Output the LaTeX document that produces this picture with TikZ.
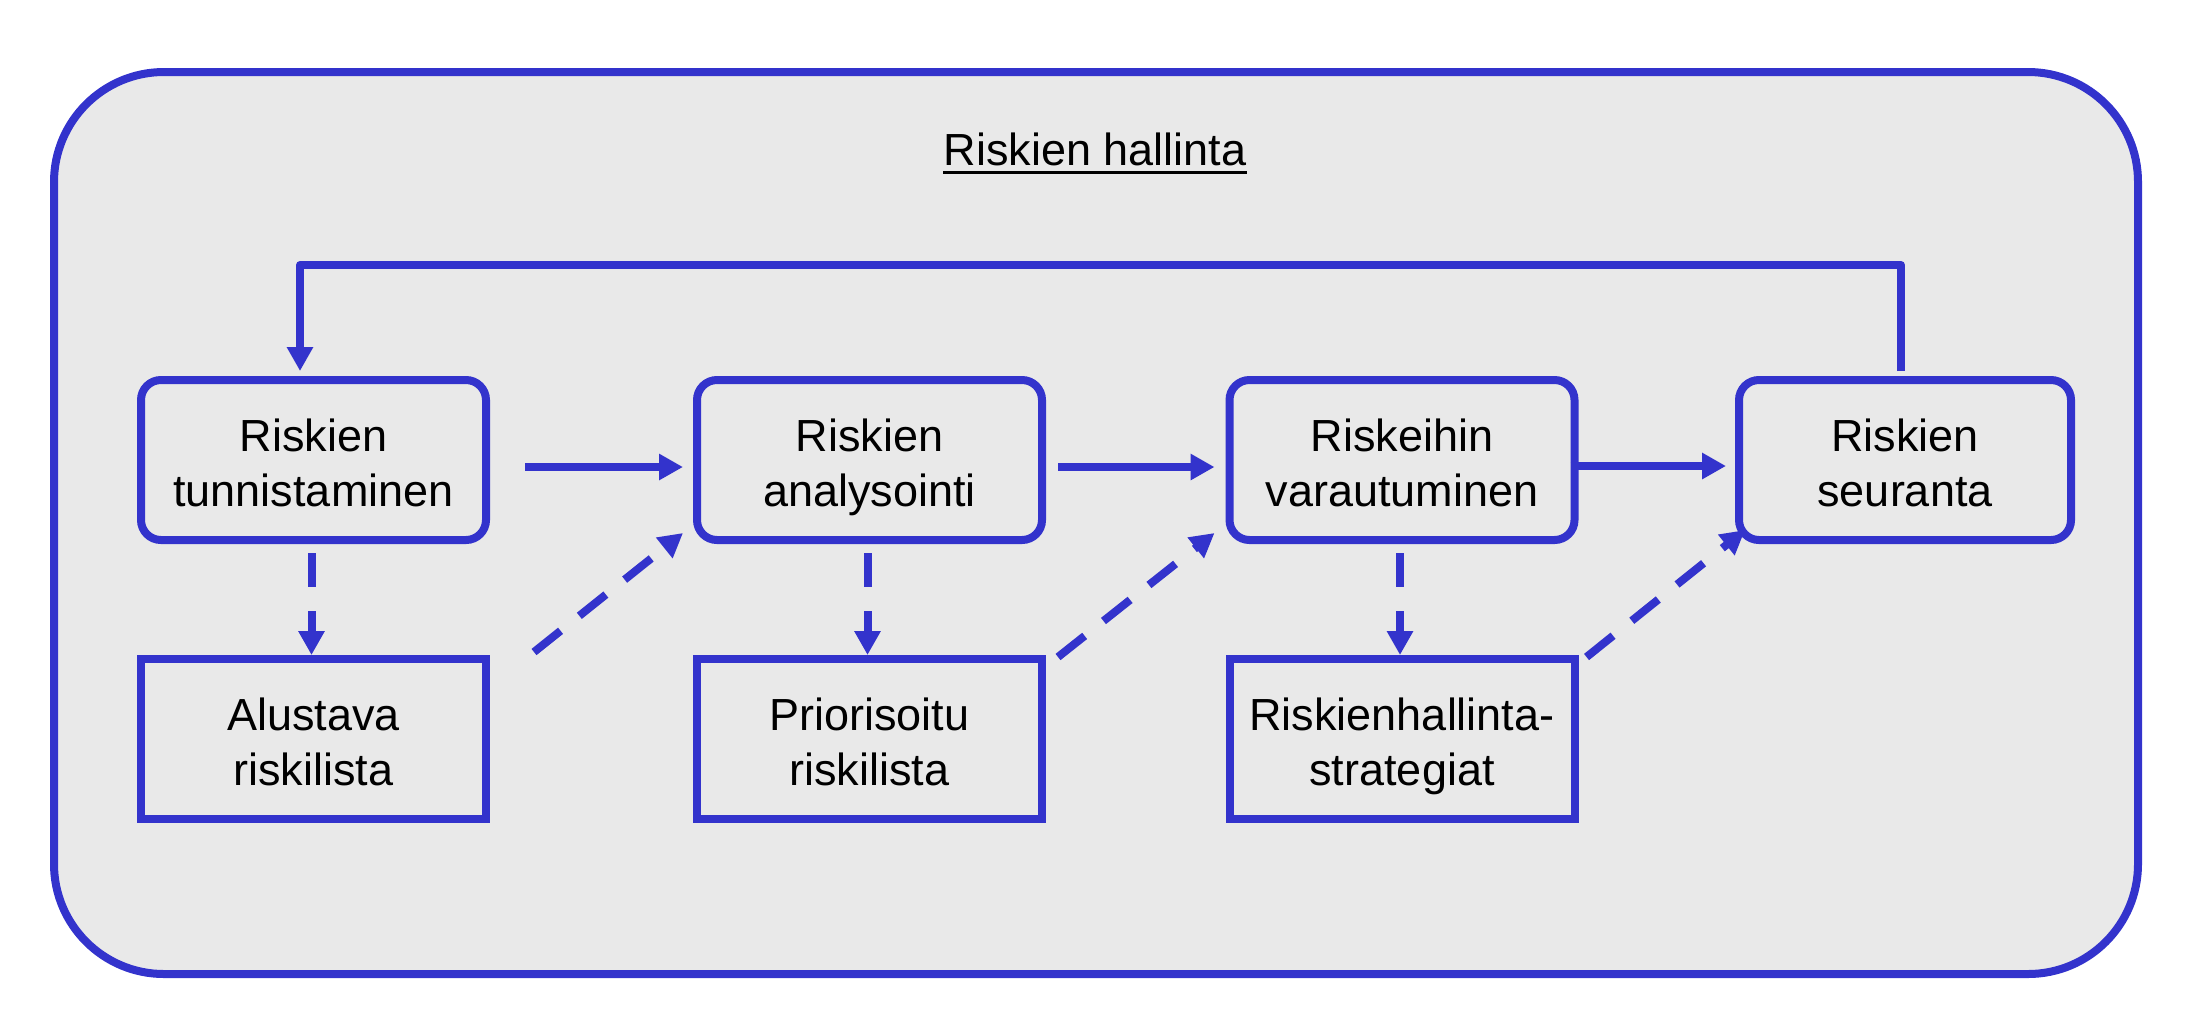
\documentclass[tikz,border=0pt]{standalone}
\usepackage{fontspec}
\setmainfont{Liberation Sans}
\usetikzlibrary{arrows.meta}
\definecolor{bl}{RGB}{51,51,204}
\definecolor{bgc}{RGB}{233,233,233}
\newcommand\hdtop{\rule{0pt}{23.5pt}}
\newcommand\hdbot{\rule[-4.7pt]{0pt}{1pt}}
\begin{document}
\begin{tikzpicture}[x=0.5pt,y=-0.5pt,
  every node/.style={font=\fontsize{22.5}{27.5}\selectfont, text=black},
  rbox/.style={draw=bl, line width=4pt, rounded corners=10pt, minimum width=172.5pt, minimum height=80pt, align=center, inner sep=0pt, outer sep=0pt},
  sbox/.style={draw=bl, line width=4pt, minimum width=172.5pt, minimum height=80pt, align=center, inner sep=0pt, outer sep=0pt},
  arr/.style={draw=bl, line width=4pt, -{Triangle[length=12pt,width=12.5pt]}},
  darr/.style={arr, dash pattern=on 17pt off 12pt}]
\useasboundingbox (0,0) rectangle (2198,1014);
\draw[draw=bl, fill=bgc, line width=4pt, rounded corners=55pt] (54,72) rectangle (2138,974);
\node[anchor=base, inner sep=0pt] (title) at (1095,165) {Riskien hallinta};
\draw[line width=1.5pt] ([yshift=-3.5pt]title.base west) -- ([yshift=-3.5pt]title.base east);
\node[rbox] (b1) at (313.5,460) {\hdtop Riskien\\tunnistaminen\hdbot};
\node[rbox] (b2) at (869.5,460) {\hdtop Riskien\\analysointi\hdbot};
\node[rbox] (b3) at (1402,460) {\hdtop Riskeihin\\varautuminen\hdbot};
\node[rbox, minimum width=166pt] (b4) at (1905,460) {\hdtop Riskien\\seuranta\hdbot};
\node[sbox] (a1) at (313.5,739) {\hdtop Alustava\\riskilista\hdbot};
\node[sbox] (a2) at (869.5,739) {\hdtop Priorisoitu\\riskilista\hdbot};
\node[sbox] (a3) at (1402,739) {\hdtop Riskienhallinta-\\strategiat\hdbot};
% horizontal arrows
\draw[arr, shorten <=19.5pt, shorten >=7pt] ([yshift=-3.5pt]b1.east) -- ([yshift=-3.5pt]b2.west);
\draw[arr, shorten <=8pt, shorten >=7.5pt] ([yshift=-3.5pt]b2.east) -- ([yshift=-3.5pt]b3.west);
\draw[arr, shorten <=-2pt, shorten >=6.5pt] ([yshift=-3pt]b3.east) -- ([yshift=-3pt]b4.west);
% vertical dashed arrows
\draw[darr, shorten <=6.5pt, shorten >=2pt] ([xshift=-1pt]b1.south) -- ([xshift=-1pt]a1.north);
\draw[darr, shorten <=6.5pt, shorten >=2pt] ([xshift=-1pt]b2.south) -- ([xshift=-1pt]a2.north);
\draw[darr, shorten <=6.5pt, shorten >=2pt] ([xshift=-1pt]b3.south) -- ([xshift=-1pt]a3.north);
% diagonal dashed arrows
\draw[darr] ([shift={(48,-7)}]a1.north east) -- ([shift={(-14,-7)}]b2.south west);
\draw[darr] ([shift={(16,-2)}]a2.north east) -- ([shift={(-15,-7)}]b3.south west);
\draw[darr] ([shift={(12,-2)}]a3.north east) -- ([shift={(6,-10)}]b4.south west);
% feedback loop
\coordinate (fb) at (0,265);
\coordinate (s4) at ([shift={(-4,-9)}]b4.north);
\coordinate (e1) at ([shift={(-13.5,-9)}]b1.north);
\draw[arr, line join=round] (s4) -- (s4 |- fb) -| (e1);
\end{tikzpicture}
\end{document}
